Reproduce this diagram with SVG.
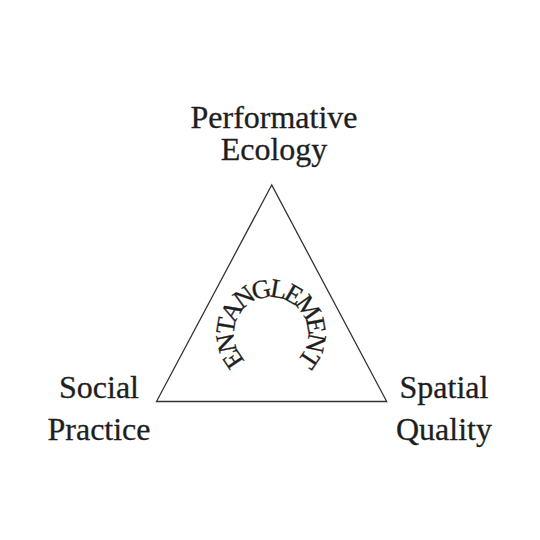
<svg xmlns="http://www.w3.org/2000/svg" width="540" height="540" viewBox="0 0 540 540">
<style>
.lbl{font-family:"Liberation Serif","Times New Roman",serif;font-size:32px;fill:#1e1e1e;stroke:#1e1e1e;stroke-width:0.3;text-anchor:middle}
.arc{font-family:"Liberation Serif","Times New Roman",serif;font-size:26.5px;fill:#1e1e1e;stroke:#1e1e1e;stroke-width:0.3;dominant-baseline:central}
.tri{fill:none;stroke:#333;stroke-width:1.3}
</style>
<defs>
<path id="arcPath" d="M248,373.84 A46,46 0 1 1 294,373.84"/>
</defs>
<rect width="540" height="540" fill="#fff"/>
<g id="connectors">
<polygon class="tri" points="271.7,185 156.5,401.5 386.7,401.5"/>
</g>
<g id="performative-ecology">
<text class="lbl" x="274" y="128">Performative</text>
<text class="lbl" x="274" y="160">Ecology</text>
</g>
<g id="social-practice">
<text class="lbl" x="99" y="398">Social</text>
<text class="lbl" x="99" y="440">Practice</text>
</g>
<g id="spatial-quality">
<text class="lbl" x="444" y="398">Spatial</text>
<text class="lbl" x="444" y="440">Quality</text>
</g>
<g id="entanglement">
<text class="arc"><textPath href="#arcPath" startOffset="50%" text-anchor="middle">ENTANGLEMENT</textPath></text>
</g>
</svg>
